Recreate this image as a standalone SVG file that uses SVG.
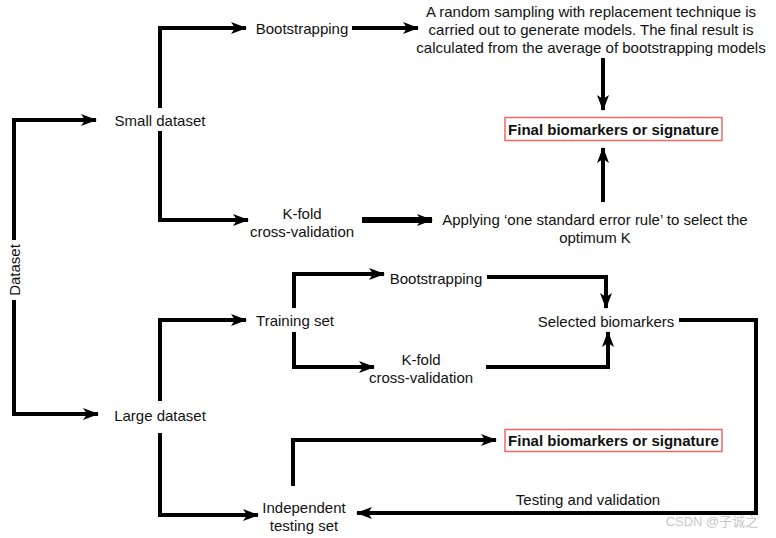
<svg xmlns="http://www.w3.org/2000/svg" width="776" height="538" viewBox="0 0 776 538">
<style>
text{font-family:"Liberation Sans",Arial,sans-serif;font-size:15px;fill:#111;text-anchor:middle;dominant-baseline:central}
.b{font-weight:bold}
.c{fill:none;stroke:#000;stroke-width:4;stroke-linejoin:miter}
.t{stroke-width:6}
.box{fill:#fff;stroke:#f06868;stroke-width:1.5}
.wm{fill:#c8c8c8;font-size:13px;font-family:"Liberation Sans","Noto Sans CJK SC",sans-serif}
</style>
<defs>
<marker id="a" viewBox="0 0 16 12" refX="15" refY="6" markerWidth="16" markerHeight="12" markerUnits="userSpaceOnUse" orient="auto">
<path d="M0,0 L16,6 L0,12 L4,6 Z" fill="#000"/>
</marker>
</defs>
<g id="connectors">
<path class="c" d="M14,240 V120 H96" marker-end="url(#a)"/>
<path class="c" d="M14,300 V414 H98" marker-end="url(#a)"/>
<path class="c" d="M160,108 V28 H246" marker-end="url(#a)"/>
<path class="c" d="M160,131 V220 H248" marker-end="url(#a)"/>
<path class="c" d="M352,28 H418" marker-end="url(#a)"/>
<path class="c t" d="M362,220 H432" marker-end="url(#a)"/>
<path class="c" d="M603,58 V110" marker-end="url(#a)"/>
<path class="c" d="M603,202 V148" marker-end="url(#a)"/>
<path class="c" d="M160,401 V320 H246" marker-end="url(#a)"/>
<path class="c" d="M294,308 V274 H384" marker-end="url(#a)"/>
<path class="c" d="M294,332 V367 H374" marker-end="url(#a)"/>
<path class="c" d="M487,277 H606 V308" marker-end="url(#a)"/>
<path class="c" d="M486,367 H608 V332" marker-end="url(#a)"/>
<path class="c" d="M679,320 H756 V513 H357" marker-end="url(#a)"/>
<path class="c" d="M160,433 V515 H258" marker-end="url(#a)"/>
<path class="c" d="M293,486 V440 H496" marker-end="url(#a)"/>
</g>
<g id="dataset"><text transform="translate(14,270) rotate(-90)">Dataset</text></g>
<g id="small-dataset"><text x="160" y="120">Small dataset</text></g>
<g id="bootstrapping-1"><text x="302" y="28">Bootstrapping</text></g>
<g id="kfold-1"><text x="302" y="213">K-fold</text><text x="302" y="231">cross-validation</text></g>
<g id="random-sampling">
<text x="591" y="11">A random sampling with replacement technique is</text>
<text x="591" y="29">carried out to generate models. The final result is</text>
<text x="591" y="47">calculated from the average of bootstrapping models</text>
</g>
<g id="final-1"><rect class="box" x="505" y="117.5" width="217" height="23"/><text class="b" x="613.5" y="129.5">Final biomarkers or signature</text></g>
<g id="one-se-rule"><text x="595" y="219">Applying ‘one standard error rule’ to select the</text><text x="595" y="237">optimum K</text></g>
<g id="large-dataset"><text x="160" y="415">Large dataset</text></g>
<g id="training-set"><text x="295" y="320">Training set</text></g>
<g id="bootstrapping-2"><text x="436" y="278">Bootstrapping</text></g>
<g id="kfold-2"><text x="421" y="359">K-fold</text><text x="421" y="377">cross-validation</text></g>
<g id="selected-biomarkers"><text x="606" y="321">Selected biomarkers</text></g>
<g id="final-2"><rect class="box" x="505" y="429.5" width="217" height="22"/><text class="b" x="613.5" y="440.5">Final biomarkers or signature</text></g>
<g id="testing-validation"><text x="588" y="499">Testing and validation</text></g>
<g id="independent-testing"><text x="304" y="507">Independent</text><text x="304" y="525">testing set</text></g>
<text class="wm" x="712" y="521">CSDN @子诚之</text>
</svg>
